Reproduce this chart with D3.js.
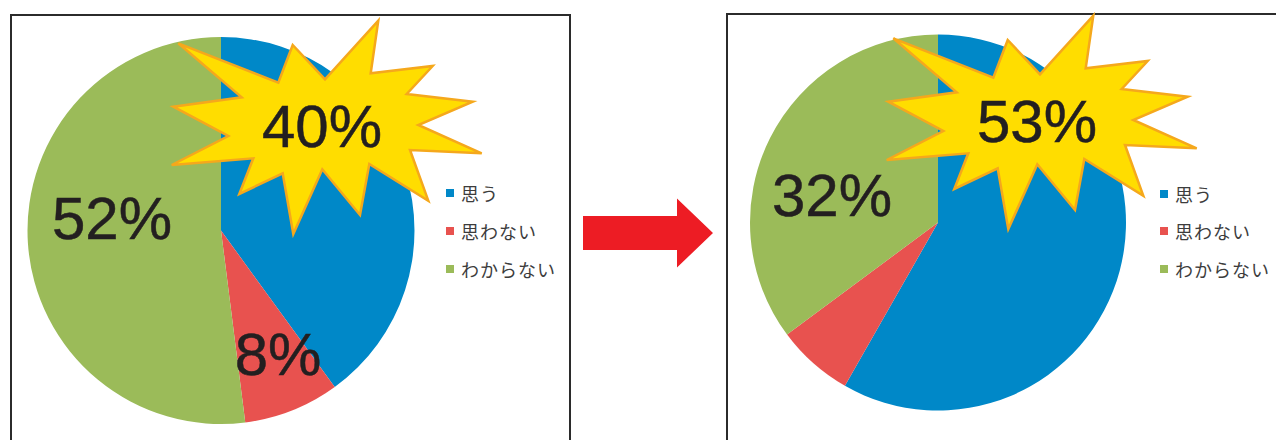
<!DOCTYPE html>
<html lang="ja">
<head>
<meta charset="utf-8">
<script src="https://cdn.jsdelivr.net/npm/d3@7/dist/d3.min.js"></script>
<style>
  html, body { margin: 0; padding: 0; background: #fff; }
  svg { display: block; }
</style>
</head>
<body>
<script>
// Survey answers, before and after
const categories = ["思う", "思わない", "わからない"];
const beforeValues = [40, 8, 52];
const afterValues = [53, 6, 32];
// Which slices carry a big printed label, and which one gets the starburst
const beforeLabelled = [0, 1, 2];
const afterLabelled = [0, 2];
const highlighted = 0;

const colors = ["#0088c8", "#e8524f", "#9bbb59"];

const W = 1276, H = 440;
const svg = d3.select("body").append("svg")
  .attr("width", W).attr("height", H);

// Starburst outline, relative to the highlighted label's centre
const burst = [
  [-143.7,-82.7],[-43.7,-43.3],[-29.3,-81],[3,-46.7],[56.3,-105.3],[48.7,-52.7],
  [110.7,-60],[84.7,-32],[150.7,-24.3],[96.3,-1],[159.7,27.3],[88,24],
  [106.3,74.7],[47.3,38],[38,89],[0.3,43.3],[-28.7,108],[-39.3,47.3],
  [-82.7,68],[-68.7,32.3],[-150.3,39],[-93.7,10],[-148.7,-19.3],[-80.3,-28.7]
];

const panels = [
  {
    values: beforeValues, labelled: beforeLabelled,
    frame: { x: 11, y: 15, w: 559, h: 460 },
    cx: 221, cy: 230.5, r: 193.5,
    labelPos: { 0: [322, 147], 1: [278, 375], 2: [112, 239] },
    legend: { x: 446, y: [193, 231, 269] }
  },
  {
    values: afterValues, labelled: afterLabelled,
    frame: { x: 727, y: 14, w: 600, h: 460 },
    cx: 938, cy: 222.5, r: 188,
    labelPos: { 0: [1037, 142], 2: [832, 215.5] },
    legend: { x: 1160, y: [194, 231, 269] }
  }
];

const pie = d3.pie().sort(null).value(d => d.value);
const color = d3.scaleOrdinal().domain(categories).range(colors);

panels.forEach(p => {
  const g = svg.append("g");

  // frame (runs off the bottom / right of the page)
  g.append("rect")
    .attr("x", p.frame.x).attr("y", p.frame.y)
    .attr("width", p.frame.w).attr("height", p.frame.h)
    .attr("fill", "#fff").attr("stroke", "#2b2b2b").attr("stroke-width", 2);

  const data = categories.map((c, i) => ({ cat: c, value: p.values[i], i }));
  const arcs = pie(data);
  const arc = d3.arc().innerRadius(0).outerRadius(p.r);

  g.append("g").attr("transform", `translate(${p.cx},${p.cy})`)
    .selectAll("path").data(arcs).join("path")
    .attr("d", arc)
    .attr("fill", d => color(d.data.cat));

  // legend
  const lg = g.append("g");
  categories.forEach((c, i) => {
    lg.append("rect")
      .attr("x", p.legend.x).attr("y", p.legend.y[i] - 4)
      .attr("width", 8).attr("height", 8)
      .attr("fill", color(c));
    lg.append("text")
      .attr("x", p.legend.x + 15).attr("y", p.legend.y[i] + 8)
      .attr("font-family", "'Noto Sans CJK JP', sans-serif")
      .attr("font-size", 18)
      .attr("letter-spacing", 1)
      .attr("fill", "#3c3c3c")
      .text(c);
  });

  const labelStyle = sel => sel
    .attr("font-family", "'Liberation Sans', Arial, sans-serif")
    .attr("font-size", 60)
    .attr("fill", "#231f20")
    .attr("stroke", "#231f20")
    .attr("stroke-width", 0.5)
    .attr("text-anchor", "middle");

  // plain labels
  p.labelled.filter(i => i !== highlighted).forEach(i => {
    const [x, y] = p.labelPos[i];
    g.append("text").call(labelStyle)
      .attr("x", x).attr("y", y)
      .text(`${data[i].value}%`);
  });

  // starburst behind the highlighted label
  if (p.labelled.includes(highlighted)) {
    const [x, y] = p.labelPos[highlighted];
    const cy = y - 21;
    g.append("path")
      .attr("d", d3.line()(burst.map(([dx, dy]) => [x + dx, cy + dy])) + "Z")
      .attr("fill", "#ffdd00")
      .attr("stroke", "#f5a81c")
      .attr("stroke-width", 2.5)
      .attr("stroke-linejoin", "miter");
    g.append("text").call(labelStyle)
      .attr("x", x).attr("y", y)
      .text(`${data[highlighted].value}%`);
  }
});

// arrow between the two panels
const arrow = [[583, 216], [677, 216], [677, 198.5], [713, 233], [677, 267.5], [677, 250], [583, 250]];
svg.append("path")
  .attr("d", d3.line()(arrow) + "Z")
  .attr("fill", "#ed1c24");
</script>
</body>
</html>
